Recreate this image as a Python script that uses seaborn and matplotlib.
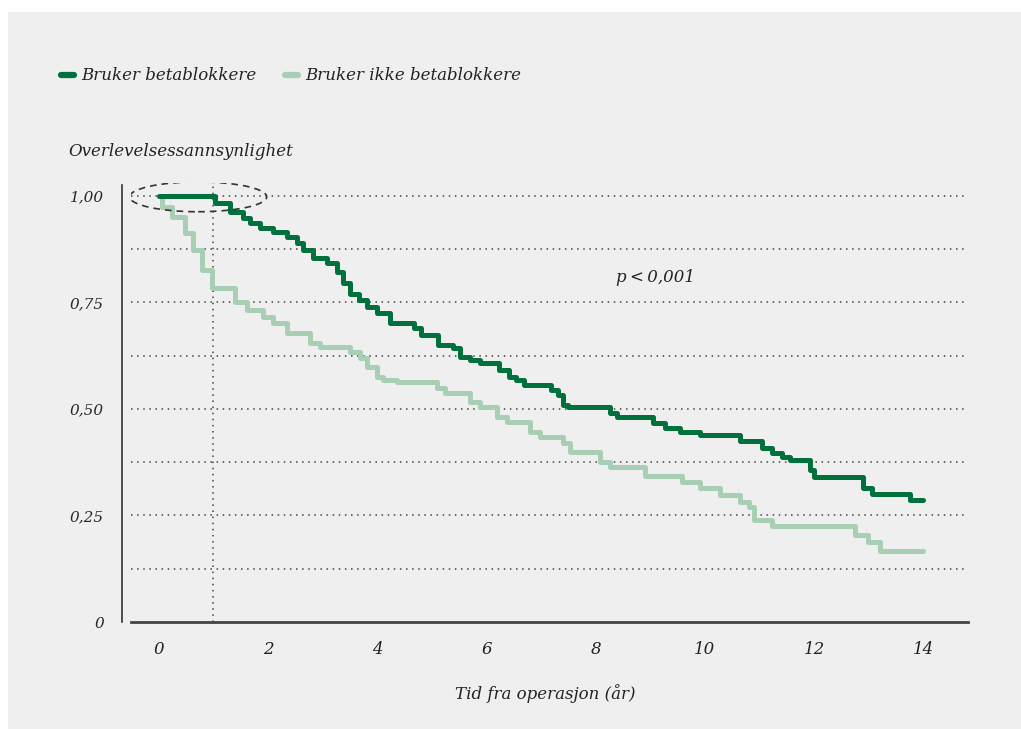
import numpy as np
import pandas as pd
import matplotlib
matplotlib.use("Agg")
import matplotlib.pyplot as plt
from matplotlib.patches import Ellipse, Rectangle
from matplotlib.lines import Line2D
import seaborn as sns

# Kaplan-Meier step points (time in years, survival)
groups = ["Bruker betablokkere", "Bruker ikke betablokkere"]
colors = ["#00703c", "#a8cfb4"]

dark_t = [0, 1.02, 1.30, 1.54, 1.67, 1.85, 2.09, 2.35, 2.53, 2.64, 2.82, 3.08, 3.26,
          3.37, 3.50, 3.67, 3.81, 4.00, 4.23, 4.67, 4.80, 5.12, 5.39, 5.52, 5.70, 5.88,
          6.23, 6.42, 6.55, 6.69, 7.18, 7.31, 7.40, 7.50, 8.27, 8.40, 9.05, 9.27, 9.54,
          9.91, 10.65, 11.05, 11.23, 11.42, 11.56, 11.93, 12.00, 12.89, 13.06, 13.76, 14.0]
dark_s = [1.0, 0.983, 0.962, 0.948, 0.937, 0.925, 0.915, 0.904, 0.890, 0.873, 0.854,
          0.843, 0.822, 0.796, 0.770, 0.756, 0.739, 0.725, 0.702, 0.690, 0.674, 0.650,
          0.643, 0.622, 0.615, 0.608, 0.592, 0.575, 0.568, 0.556, 0.545, 0.533, 0.509,
          0.505, 0.491, 0.481, 0.467, 0.455, 0.446, 0.439, 0.425, 0.408, 0.397, 0.387,
          0.380, 0.357, 0.340, 0.315, 0.300, 0.286, 0.286]

light_t = [0, 0.05, 0.25, 0.47, 0.62, 0.79, 0.97, 1.40, 1.61, 1.91, 2.09, 2.35, 2.77,
           2.95, 3.50, 3.68, 3.81, 4.00, 4.10, 4.36, 5.09, 5.24, 5.70, 5.88, 6.19, 6.38,
           6.80, 6.98, 7.40, 7.53, 8.08, 8.26, 8.91, 9.58, 9.91, 10.28, 10.65, 10.80,
           10.90, 11.23, 12.75, 12.99, 13.21, 14.0]
light_s = [1.0, 0.975, 0.951, 0.914, 0.873, 0.826, 0.783, 0.751, 0.732, 0.716, 0.702,
           0.678, 0.655, 0.646, 0.634, 0.620, 0.599, 0.575, 0.568, 0.563, 0.549, 0.538,
           0.516, 0.505, 0.481, 0.469, 0.446, 0.434, 0.420, 0.399, 0.376, 0.364, 0.343,
           0.329, 0.315, 0.298, 0.282, 0.270, 0.239, 0.225, 0.204, 0.188, 0.167, 0.167]

x_ticks = [0, 2, 4, 6, 8, 10, 12, 14]
y_ticks = [0, 0.25, 0.50, 0.75, 1.00]
y_ticklabels = ["0", "0,25", "0,50", "0,75", "1,00"]

df = pd.concat([
    pd.DataFrame({"tid": dark_t, "overlevelse": dark_s, "gruppe": groups[0]}),
    pd.DataFrame({"tid": light_t, "overlevelse": light_s, "gruppe": groups[1]}),
])

sns.set_theme(style="white")
plt.rcParams["font.family"] = ["DejaVu Serif"]
plt.rcParams["font.style"] = "italic"
txt = "#222222"
fs = 12

fig = plt.figure(figsize=(10.21, 7.29), dpi=100, facecolor="white")
fig.patches.append(Rectangle((8 / 1021, 0), 1, (729 - 12) / 729, transform=fig.transFigure,
                             facecolor="#efefef", edgecolor="none", zorder=-10))

ax = fig.add_axes([131 / 1021, 107 / 729, 837 / 1021, 438.8 / 729])
ax.set_facecolor("none")

# dotted grid
for g in np.arange(0.125, 1.01, 0.125):
    ax.axhline(g, color="#444444", lw=1.1, ls=(0, (1, 3)), zorder=1)
ax.plot([1, 1], [0, 1.03], color="#444444", lw=1.1, ls=(0, (1, 3)), zorder=1)

sns.lineplot(data=df, x="tid", y="overlevelse", hue="gruppe",
             hue_order=[groups[1], groups[0]], palette=[colors[1], colors[0]],
             drawstyle="steps-post", estimator=None, sort=False, linewidth=3.6,
             legend=False, ax=ax, zorder=3)

ax.add_patch(Ellipse((0.72, 0.998), 2.51, 0.070, fill=False, ls=(0, (4, 3)),
                     lw=1.2, edgecolor="#333333", zorder=4))

ax.set_xlim(-0.51, 14.82)
ax.set_ylim(0, 1.03)
ax.set_xticks(x_ticks)
ax.set_xticklabels([str(t) for t in x_ticks], fontsize=fs, color=txt)
ax.set_yticks(y_ticks)
ax.set_yticklabels(y_ticklabels, fontsize=fs, color=txt)
ax.tick_params(axis="x", length=0, pad=14)
ax.tick_params(axis="y", length=0, pad=13)
ax.set_xlabel("")
ax.set_ylabel("")

for s in ["top", "right"]:
    ax.spines[s].set_visible(False)
ax.spines["left"].set_position(("outward", 6.5))
ax.spines["left"].set_bounds(0, 1.025)
ax.spines["left"].set_linewidth(1.2)
ax.spines["left"].set_color("#333333")
ax.spines["bottom"].set_linewidth(2.0)
ax.spines["bottom"].set_color("#444444")

ax.text(9.09, 0.808, "p\u2009<\u20090,001", fontsize=fs, color=txt, ha="center", va="center")

fig.text(68 / 1021, 1 - 152 / 729, "Overlevelsessannsynlighet", fontsize=fs,
         color=txt, ha="left", va="center")
fig.text(545 / 1021, 1 - 694 / 729, "Tid fra operasjon (år)", fontsize=fs,
         color=txt, ha="center", va="center")

handles = [Line2D([], [], color=c, lw=4.5, solid_capstyle="round") for c in colors]
fig.legend(handles, groups, loc="center left", bbox_to_anchor=(46 / 1021, 1 - 76 / 729),
           ncol=2, frameon=False, fontsize=fs, handlelength=0.75,
           handletextpad=0.45, columnspacing=1.75, labelcolor=txt)

fig.savefig("out.png", dpi=100, facecolor=fig.get_facecolor())
